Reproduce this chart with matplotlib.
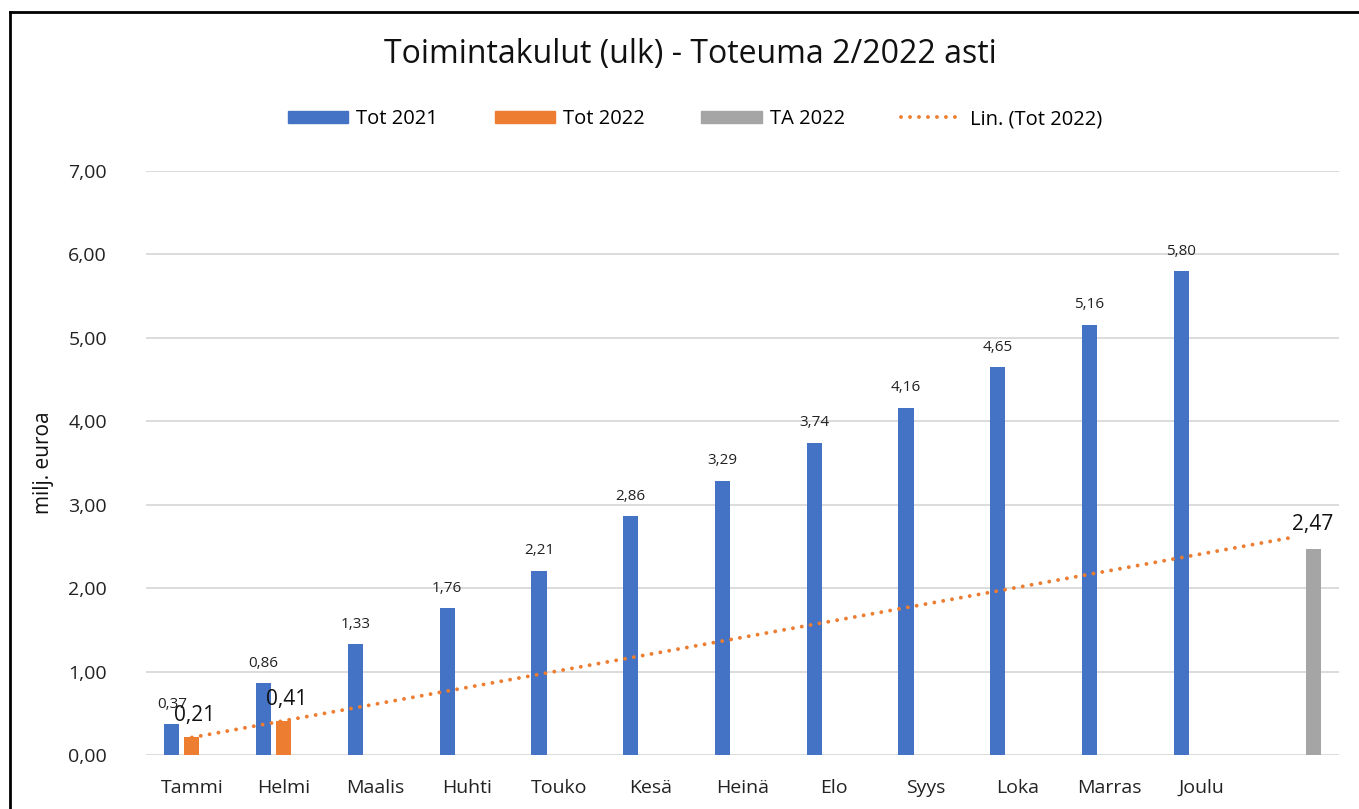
import matplotlib.pyplot as plt
import numpy as np
from matplotlib.patches import Patch
from matplotlib.lines import Line2D

plt.rcParams['font.family'] = ['Open Sans', 'DejaVu Sans']

months = ['Tammi', 'Helmi', 'Maalis', 'Huhti', 'Touko', 'Kesä',
          'Heinä', 'Elo', 'Syys', 'Loka', 'Marras', 'Joulu', '']
tot2021 = [0.37, 0.86, 1.33, 1.76, 2.21, 2.86, 3.29, 3.74, 4.16, 4.65, 5.16, 5.80]
tot2022 = [0.21, 0.41]
ta2022 = 2.47

blue = '#4472c4'
orange = '#ed7d31'
grey = '#a5a5a5'
dots = (0, (0.01, 2.3))

fig = plt.figure(figsize=(13.59, 8.09), dpi=100)
ax = fig.add_axes([146 / 1359, 1 - 755 / 809, (1339 - 146) / 1359, (755 - 171) / 809])

x = np.arange(len(months))
w = 0.165
off = 0.218

ax.bar(x[:12] - off, tot2021, width=w, color=blue, zorder=3)
ax.bar(x[:2], tot2022, width=w, color=orange, zorder=3)
ax.bar(x[12] + off, [ta2022], width=w, color=grey, zorder=3)

# linear trend of Tot 2022, extended over all categories
k, c = np.polyfit(x[:2], tot2022, 1)
ax.plot(x, k * x + c, color=orange, linestyle=dots, linewidth=2.8,
        dash_capstyle='round', zorder=4)

def fmt(v):
    return f'{v:.2f}'.replace('.', ',')

for xi, v in zip(x[:12] - off, tot2021):
    ax.annotate(fmt(v), (xi, v), xytext=(0, 9), textcoords='offset points',
                ha='center', va='bottom', fontsize=11, color='#222222', zorder=5)
for xi, v in zip(x[:2], tot2022):
    ax.annotate(fmt(v), (xi + 0.03, v), xytext=(0, 8), textcoords='offset points',
                ha='center', va='bottom', fontsize=15, color='#111111', zorder=6)
ax.annotate(fmt(ta2022), (x[12] + off, ta2022), xytext=(0, 10), textcoords='offset points',
            ha='center', va='bottom', fontsize=15, color='#111111', zorder=6)

ax.set_xlim(-0.5, 12.5)
ax.set_ylim(0, 7)
ax.set_yticks(np.arange(0, 8, 1))
ax.set_yticklabels([fmt(v) for v in np.arange(0, 8, 1)], fontsize=14, color='#222222')
ax.set_xticks(x)
ax.set_xticklabels(months, fontsize=14, color='#222222')
ax.tick_params(length=0)
ax.tick_params(axis='x', pad=17)
ax.tick_params(axis='y', pad=28)
ax.grid(axis='y', color='#d9d9d9', linewidth=1.3, zorder=0)
for s in ax.spines.values():
    s.set_visible(False)
ax.set_ylabel('milj. euroa', fontsize=15, color='#111111', labelpad=10)

fig.text(690 / 1359, 1 - 55 / 809, 'Toimintakulut (ulk) - Toteuma 2/2022 asti',
         ha='center', va='center', fontsize=23, color='#111111')

handles = [Patch(color=blue), Patch(color=orange), Patch(color=grey),
           Line2D([], [], color=orange, linestyle=dots, linewidth=2.8,
                  dash_capstyle='round')]
labels = ['Tot 2021', 'Tot 2022', 'TA 2022', 'Lin. (Tot 2022)']
fig.legend(handles, labels, loc='center', bbox_to_anchor=(695 / 1359, 1 - 119 / 809),
           ncol=4, frameon=False, fontsize=14.5, handlelength=3.0, handleheight=0.6,
           columnspacing=2.8, handletextpad=0.4)

# outer frame (cropped at the right and bottom)
fig.add_artist(Line2D([9.5 / 1359, 9.5 / 1359], [0, 1 - 12 / 809], color='black',
                      linewidth=2, transform=fig.transFigure))
fig.add_artist(Line2D([9.5 / 1359, 1], [1 - 12 / 809, 1 - 12 / 809], color='black',
                      linewidth=2, transform=fig.transFigure))

fig.savefig('out.png', dpi=100)
